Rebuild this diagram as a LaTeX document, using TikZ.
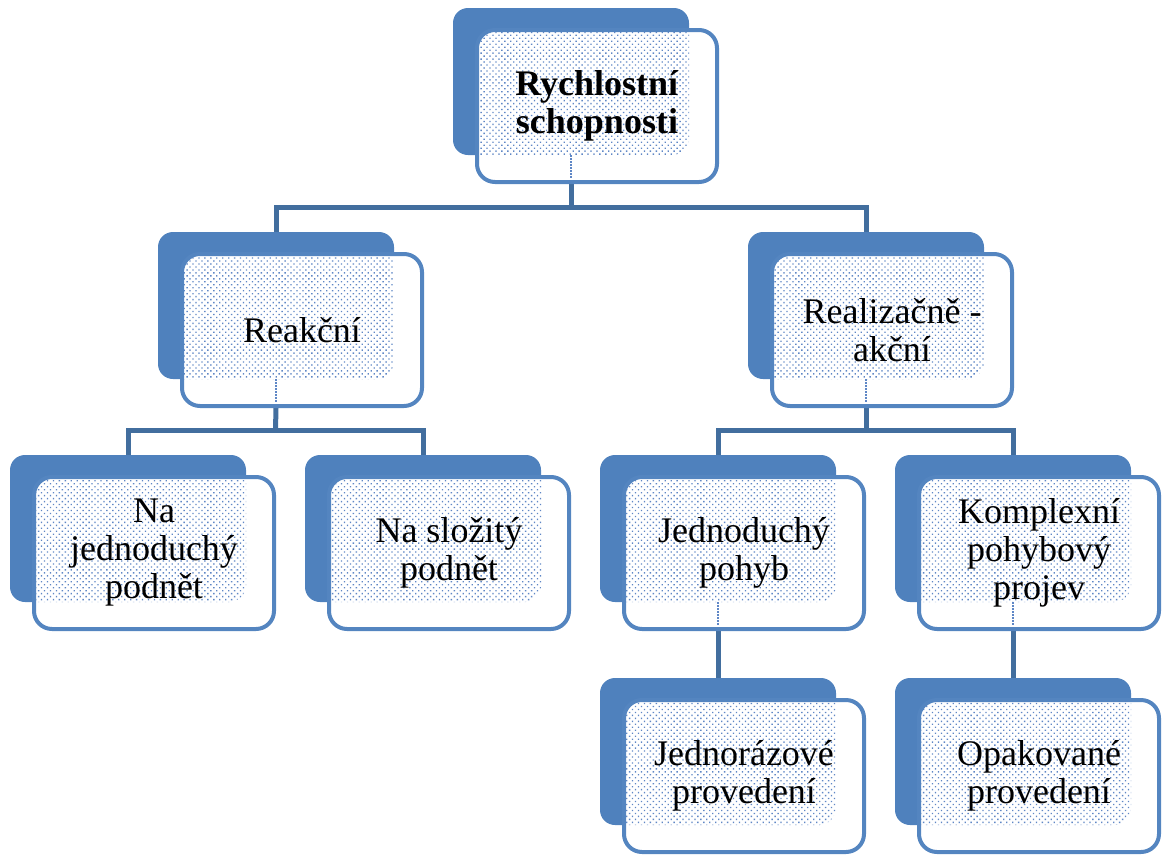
\documentclass[tikz,border=0pt]{standalone}
\usepackage{fontspec}
\setmainfont{Liberation Serif}
\usetikzlibrary{patterns.meta,calc}
\pgfdeclarelayer{background}
\pgfsetlayers{background,main}
\definecolor{backblue}{RGB}{79,129,189}
\definecolor{edgeblue}{RGB}{84,133,192}
\definecolor{connblue}{RGB}{66,110,158}
\definecolor{dotblue}{RGB}{95,135,198}
\tikzset{
  backbox/.style={fill=backblue, draw=none, rounded corners=15pt, minimum width=236pt, minimum height=147pt, inner sep=0pt},
  frontbox/.style={draw=edgeblue, line width=4pt, fill=white, rounded corners=18pt, minimum width=240pt, minimum height=152pt, inner sep=0pt, align=center, font=\fontsize{36}{38}\selectfont, text=black},
  conn/.style={draw=connblue, line width=5pt},
  ghost/.style={draw=dotblue, line width=1.5pt, dash pattern=on 1.5pt off 1.5pt}
}
\newcommand\smbox[4]{%
  \node[backbox] (#1b) at (#2+118,#3+73.5) {};
  \node[frontbox, path picture={
      \clip[rounded corners=15pt] (#1b.south west) rectangle (#1b.north east);
      \fill[pattern={Dots[distance=4.2pt,radius=0.95pt,angle=45]}, pattern color=dotblue]
        (#1b.south west) rectangle (#1b.north east);
    }] (#1) at (#2+144,#3+98) {#4};
}
\begin{document}
\begin{tikzpicture}[x=1pt,y=-1pt]
\useasboundingbox (0,0) rectangle (1163,855);

\smbox{top}{453}{8}{\textbf{Rychlostní}\\\textbf{schopnosti}}
\smbox{ra}{158}{232}{Reakční}
\smbox{rb}{748}{232}{Realizačně -\\akční}
\smbox{na}{10}{455}{Na\\jednoduchý\\podnět}
\smbox{ns}{305}{455}{Na složitý\\podnět}
\smbox{jp}{600}{455}{Jednoduchý\\pohyb}
\smbox{kp}{895}{455}{Komplexní\\pohybový\\projev}
\smbox{jr}{600}{678}{Jednorázové\\provedení}
\smbox{op}{895}{678}{Opakované\\provedení}

\coordinate (j0) at (571,207);
\coordinate (j1) at (275.5,430);
\coordinate (j2) at (866,430);

\begin{pgfonlayer}{background}
  \draw[conn] (top.south -| topb.center) -- (j0);
  \draw[conn] (rab.north) |- (j0) -| (rbb.north);
  \draw[conn] (ra.south -| rab.center) -- (j1);
  \draw[conn] (nab.north) |- (j1) -| (nsb.north);
  \draw[conn] (rb.south -| rbb.center) -- (j2);
  \draw[conn] (jpb.north) |- (j2) -| (kpb.north);
  \draw[conn] (jp.south -| jpb.center) -- (jrb.north);
  \draw[conn] (kp.south -| kpb.center) -- (opb.north);
\end{pgfonlayer}

\draw[ghost] (topb.south) -- ($(top.south -| topb.center)+(0,-5)$);
\draw[ghost] (rab.south) -- ($(ra.south -| rab.center)+(0,-5)$);
\draw[ghost] (rbb.south) -- ($(rb.south -| rbb.center)+(0,-5)$);
\draw[ghost] (jpb.south) -- ($(jp.south -| jpb.center)+(0,-5)$);
\draw[ghost] (kpb.south) -- ($(kp.south -| kpb.center)+(0,-5)$);
\end{tikzpicture}
\end{document}
